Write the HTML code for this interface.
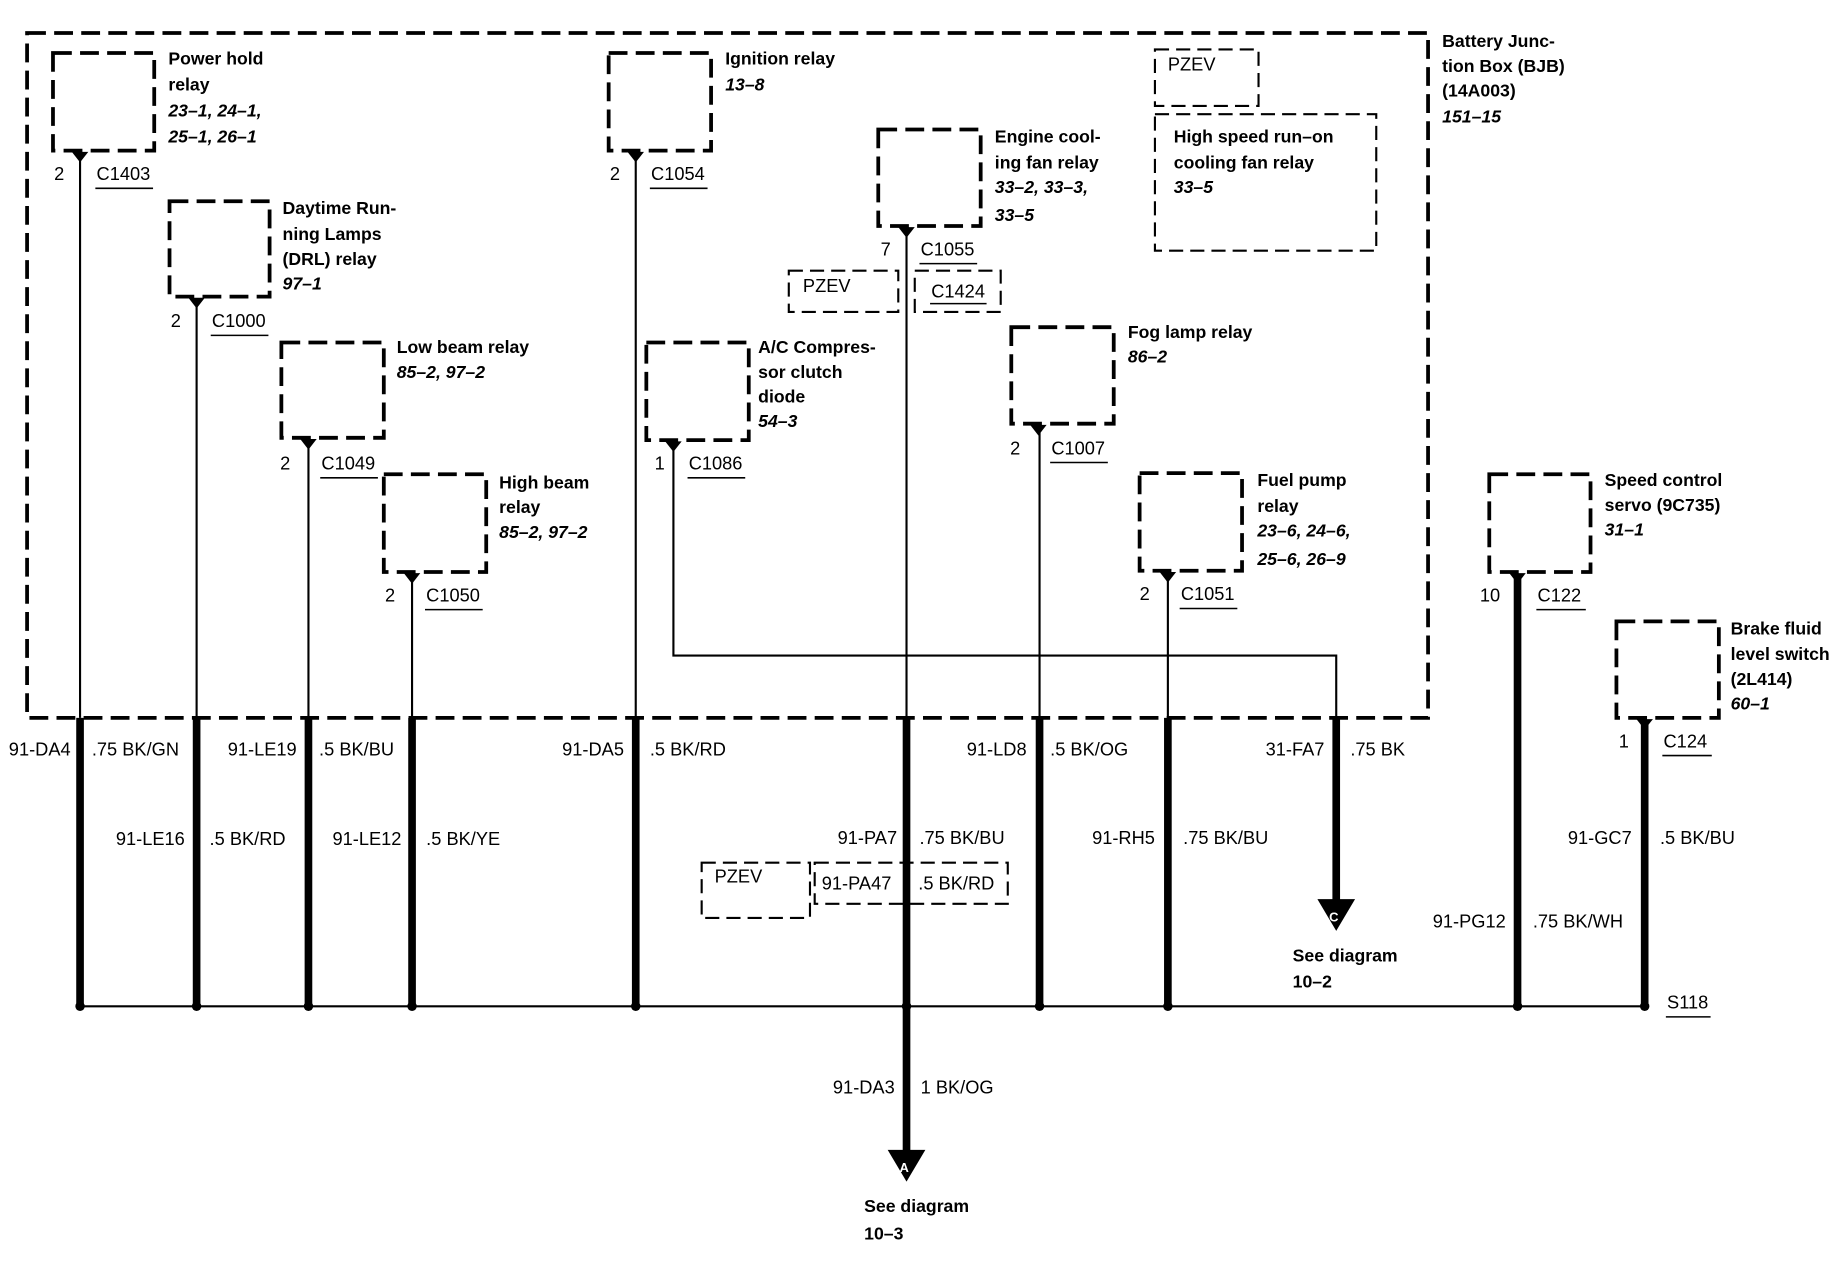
<!DOCTYPE html>
<html><head><meta charset="utf-8"><style>
html,body{margin:0;padding:0;background:#fff;}
svg{display:block;}
text{font-family:"Liberation Sans",sans-serif;fill:#000;}
.b{font-weight:bold;font-size:15px;}
.i{font-weight:bold;font-style:italic;font-size:15px;}
.w{font-size:15.5px;}
.box{fill:none;stroke:#000;stroke-width:3.2;stroke-dasharray:16,7;}
.tb{fill:none;stroke:#000;stroke-width:1.8;stroke-dasharray:12,6;}
.thin{stroke:#000;stroke-width:1.8;fill:none;}
.thick{stroke:#000;stroke-width:6.5;fill:none;}
.ul{stroke:#000;stroke-width:1.3;}
</style></head><body>
<svg width="1846" height="1264" viewBox="0 0 1568 1074" preserveAspectRatio="none" xmlns="http://www.w3.org/2000/svg">
<!-- outer BJB box -->
<rect class="box" x="23" y="28" width="1190" height="582"/>
<text class="b" x="1225" y="40">Battery Junc-</text>
<text class="b" x="1225" y="61">tion Box (BJB)</text>
<text class="b" x="1225" y="82">(14A003)</text>
<text class="i" x="1225" y="104">151–15</text>

<!-- relay boxes -->
<rect class="box" x="45" y="45" width="86" height="83"/>
<rect class="box" x="144" y="171" width="85" height="81"/>
<rect class="box" x="239" y="291" width="87" height="81"/>
<rect class="box" x="326" y="403" width="87" height="83"/>
<rect class="box" x="517" y="45" width="87" height="83"/>
<rect class="box" x="746" y="110" width="87" height="82"/>
<rect class="box" x="549" y="291" width="87" height="83"/>
<rect class="box" x="859" y="278" width="87" height="82"/>
<rect class="box" x="968" y="402" width="87" height="83"/>
<rect class="box" x="1265" y="403" width="86" height="83"/>
<rect class="box" x="1373" y="528" width="87" height="82"/>

<rect class="tb" x="670" y="230" width="93" height="35"/>
<rect class="tb" x="777" y="230" width="73" height="35"/>
<rect class="tb" x="981" y="42" width="88" height="48"/>
<rect class="tb" x="981" y="97" width="188" height="116"/>
<rect class="tb" x="596" y="733" width="92" height="47"/>
<rect class="tb" x="692" y="733" width="164" height="35"/>

<!-- relay labels -->
<text class="b" x="143" y="55">Power hold</text>
<text class="b" x="143" y="77">relay</text>
<text class="i" x="143" y="99">23–1, 24–1,</text>
<text class="i" x="143" y="121">25–1, 26–1</text>
<text class="b" x="240" y="182">Daytime Run-</text>
<text class="b" x="240" y="204">ning Lamps</text>
<text class="b" x="240" y="225">(DRL) relay</text>
<text class="i" x="240" y="246">97–1</text>
<text class="b" x="337" y="300">Low beam relay</text>
<text class="i" x="337" y="321">85–2, 97–2</text>
<text class="b" x="424" y="415">High beam</text>
<text class="b" x="424" y="436">relay</text>
<text class="i" x="424" y="457">85–2, 97–2</text>
<text class="b" x="616" y="55">Ignition relay</text>
<text class="i" x="616" y="77">13–8</text>
<text class="b" x="845" y="121">Engine cool-</text>
<text class="b" x="845" y="143">ing fan relay</text>
<text class="i" x="845" y="164">33–2, 33–3,</text>
<text class="i" x="845" y="188">33–5</text>
<text class="b" x="644" y="300">A/C Compres-</text>
<text class="b" x="644" y="321">sor clutch</text>
<text class="b" x="644" y="342">diode</text>
<text class="i" x="644" y="363">54–3</text>
<text class="b" x="958" y="287">Fog lamp relay</text>
<text class="i" x="958" y="308">86–2</text>
<text class="b" x="1068" y="413">Fuel pump</text>
<text class="b" x="1068" y="435">relay</text>
<text class="i" x="1068" y="456">23–6, 24–6,</text>
<text class="i" x="1068" y="480">25–6, 26–9</text>
<text class="b" x="1363" y="413">Speed control</text>
<text class="b" x="1363" y="434">servo (9C735)</text>
<text class="i" x="1363" y="455">31–1</text>
<text class="b" x="1470" y="539">Brake fluid</text>
<text class="b" x="1470" y="561">level switch</text>
<text class="b" x="1470" y="582">(2L414)</text>
<text class="i" x="1470" y="603">60–1</text>
<text class="w" x="992" y="60">PZEV</text>
<text class="b" x="997" y="121">High speed run–on</text>
<text class="b" x="997" y="143">cooling fan relay</text>
<text class="i" x="997" y="164">33–5</text>
<text class="w" x="682" y="248">PZEV</text>
<text class="w" x="791" y="253">C1424</text><line class="ul" x1="790" y1="258" x2="838" y2="258"/>
<text class="w" x="607" y="750">PZEV</text>
<text class="w" x="698" y="756">91-PA47</text>
<text class="w" x="780" y="756">.5 BK/RD</text>

<!-- connectors: pin & name -->
<g class="w">
<text x="46" y="153">2</text><text x="82" y="153">C1403</text>
<text x="145" y="278">2</text><text x="180" y="278">C1000</text>
<text x="238" y="399">2</text><text x="273" y="399">C1049</text>
<text x="327" y="511">2</text><text x="362" y="511">C1050</text>
<text x="518" y="153">2</text><text x="553" y="153">C1054</text>
<text x="748" y="217">7</text><text x="782" y="217">C1055</text>
<text x="556" y="399">1</text><text x="585" y="399">C1086</text>
<text x="858" y="386">2</text><text x="893" y="386">C1007</text>
<text x="968" y="510">2</text><text x="1003" y="510">C1051</text>
<text x="1257" y="511">10</text><text x="1306" y="511">C122</text>
<text x="1375" y="635">1</text><text x="1413" y="635">C124</text>
<text x="1416" y="857">S118</text>
</g>
<g class="ul">
<line x1="81" y1="160" x2="130" y2="160"/>
<line x1="179" y1="285" x2="228" y2="285"/>
<line x1="272" y1="406" x2="321" y2="406"/>
<line x1="361" y1="518" x2="410" y2="518"/>
<line x1="552" y1="160" x2="601" y2="160"/>
<line x1="781" y1="224" x2="830" y2="224"/>
<line x1="584" y1="406" x2="633" y2="406"/>
<line x1="892" y1="393" x2="941" y2="393"/>
<line x1="1002" y1="517" x2="1051" y2="517"/>
<line x1="1305" y1="518" x2="1347" y2="518"/>
<line x1="1412" y1="642" x2="1454" y2="642"/>
<line x1="1415" y1="864" x2="1453" y2="864"/>
</g>

<!-- connector glyphs -->
<g fill="#000">
<path d="M61,129 h14 l-7,9 z"/><path d="M160,253 h14 l-7,9 z"/>
<path d="M255,373 h14 l-7,9 z"/><path d="M343,487 h14 l-7,9 z"/>
<path d="M533,129 h14 l-7,9 z"/><path d="M763,193 h14 l-7,9 z"/>
<path d="M565,375 h14 l-7,9 z"/><path d="M875,361 h14 l-7,9 z"/>
<path d="M985,486 h14 l-7,9 z"/><path d="M1282,487 h14 l-7,9 z"/>
<path d="M1390,611 h14 l-7,9 z"/>
</g>

<!-- thin wires inside BJB -->
<path class="thin" d="M68,130 V610 M167,254 V610 M262,374 V610 M350,488 V610 M540,130 V610 M770,194 V610 M883,362 V610 M992,487 V610 M572,376 V557 H1135 V610"/>
<!-- thick wires -->
<path class="thick" d="M68,610 V855 M167,610 V855 M262,610 V855 M350,610 V855 M540,610 V855 M770,610 V980 M883,610 V855 M992,610 V855 M1135,610 V768 M1289,489 V855 M1397,613 V855"/>
<!-- bus -->
<line class="thin" x1="68" y1="855" x2="1397" y2="855"/>
<g fill="#000">
<circle cx="68" cy="855" r="4"/><circle cx="167" cy="855" r="4"/><circle cx="262" cy="855" r="4"/>
<circle cx="350" cy="855" r="4"/><circle cx="540" cy="855" r="4"/><circle cx="770" cy="855" r="4"/>
<circle cx="883" cy="855" r="4"/><circle cx="992" cy="855" r="4"/><circle cx="1289" cy="855" r="4"/>
<circle cx="1397" cy="855" r="4"/>
<path d="M754,977 h32 l-16,27 z"/>
<path d="M1119,764 h32 l-16,27 z"/>
</g>
<text x="764" y="996" style="font-size:11px;font-weight:bold;fill:#fff">A</text>
<text x="1129" y="783" style="font-size:11px;font-weight:bold;fill:#fff">C</text>
<text class="b" x="734" y="1030">See diagram</text>
<text class="b" x="734" y="1053">10–3</text>
<text class="b" x="1098" y="817">See diagram</text>
<text class="b" x="1098" y="839">10–2</text>

<!-- wire labels -->
<g class="w">
<text x="60" y="642" text-anchor="end">91-DA4</text><text x="78" y="642">.75 BK/GN</text>
<text x="252" y="642" text-anchor="end">91-LE19</text><text x="271" y="642">.5 BK/BU</text>
<text x="530" y="642" text-anchor="end">91-DA5</text><text x="552" y="642">.5 BK/RD</text>
<text x="872" y="642" text-anchor="end">91-LD8</text><text x="892" y="642">.5 BK/OG</text>
<text x="1125" y="642" text-anchor="end">31-FA7</text><text x="1147" y="642">.75 BK</text>
<text x="157" y="718" text-anchor="end">91-LE16</text><text x="178" y="718">.5 BK/RD</text>
<text x="341" y="718" text-anchor="end">91-LE12</text><text x="362" y="718">.5 BK/YE</text>
<text x="762" y="717" text-anchor="end">91-PA7</text><text x="781" y="717">.75 BK/BU</text>
<text x="981" y="717" text-anchor="end">91-RH5</text><text x="1005" y="717">.75 BK/BU</text>
<text x="1386" y="717" text-anchor="end">91-GC7</text><text x="1410" y="717">.5 BK/BU</text>
<text x="1279" y="788" text-anchor="end">91-PG12</text><text x="1302" y="788">.75 BK/WH</text>
<text x="760" y="929" text-anchor="end">91-DA3</text><text x="782" y="929">1 BK/OG</text>
</g>
</svg>
</body></html>
